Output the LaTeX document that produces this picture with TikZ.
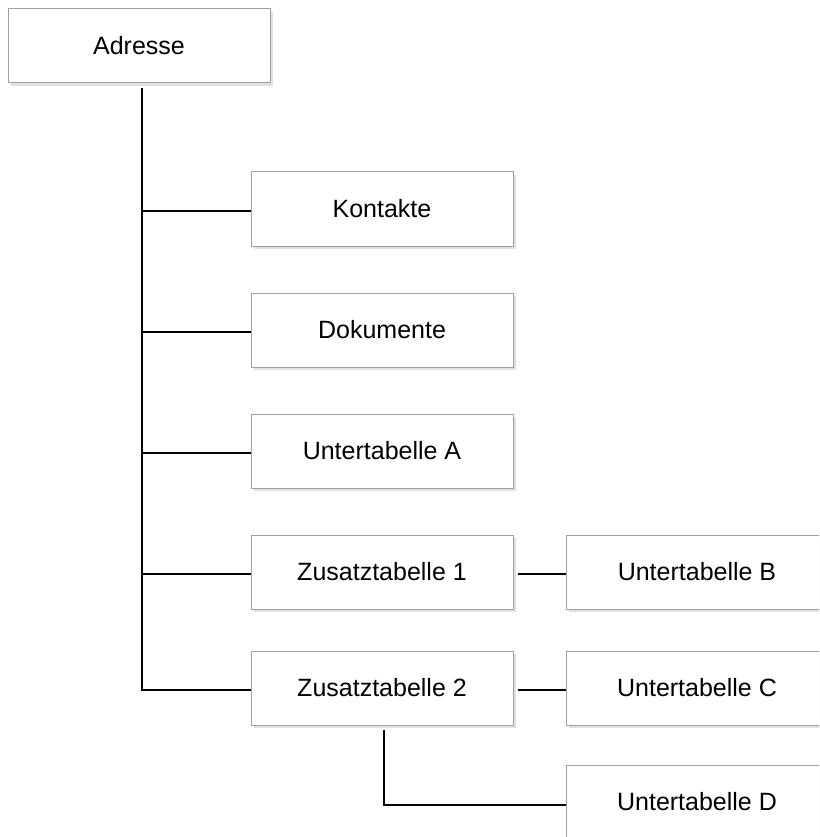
\documentclass[tikz,border=0pt]{standalone}
\usepackage{fontspec}
\setmainfont{Liberation Sans}
\usepackage{tikz}
\usetikzlibrary{shadows}
\definecolor{cRand}{RGB}{160,160,160}
\definecolor{cSchatten}{RGB}{225,225,225}

\begin{document}
\begin{tikzpicture}[x=1pt,y=-1pt,font=\fontsize{25}{29}\selectfont,
  tabelle/.style={draw=cRand,line width=1pt,fill=white,minimum width=262pt,minimum height=74pt,
    inner sep=0pt,drop shadow={shadow xshift=3pt,shadow yshift=-3pt,fill=cSchatten,opacity=1}},
  verbindung/.style={line width=2.2pt,black}]
\useasboundingbox (0,0) rectangle (819,837);
\clip (0,0) rectangle (819,837);
\node[tabelle] (adr) at (139,46) {Adresse};
\node[tabelle] (kon) at (382,209) {Kontakte};
\node[tabelle] (dok) at (382,330) {Dokumente};
\node[tabelle] (uta) at (382,451) {Untertabelle A};
\node[tabelle] (zt1) at (382,572) {Zusatztabelle 1};
\node[tabelle] (zt2) at (382,688) {Zusatztabelle 2};
\node[tabelle] (utb) at (697,572) {Untertabelle B};
\node[tabelle] (utc) at (697,688) {Untertabelle C};
\node[tabelle] (utd) at (697,802) {Untertabelle D};
\coordinate (stamm) at (142,88);
\draw[verbindung] (stamm) |- ([yshift=-2pt]zt2.west);
\foreach \n in {kon,dok,uta,zt1}
  \draw[verbindung] ([yshift=-2pt]stamm |- \n.west) -- ([yshift=-2pt]\n.west);
\draw[verbindung] ([xshift=4pt,yshift=-2pt]zt1.east) -- ([yshift=-2pt]utb.west);
\draw[verbindung] ([xshift=4pt,yshift=-2pt]zt2.east) -- ([yshift=-2pt]utc.west);
\draw[verbindung] ([xshift=2pt,yshift=-4pt]zt2.south) |- ([yshift=-3pt]utd.west);
\end{tikzpicture}
\end{document}
